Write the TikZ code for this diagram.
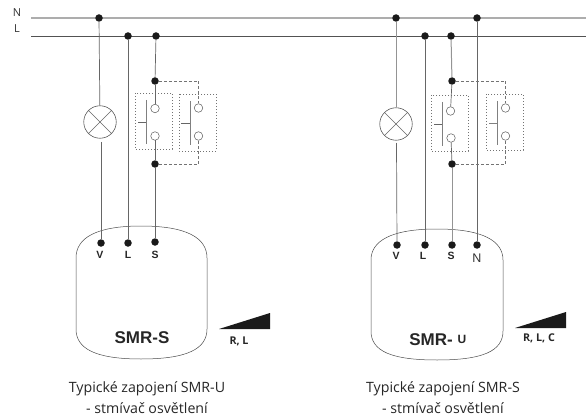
\documentclass[tikz,border=0pt]{standalone}
\usepackage{fontspec}
\setmainfont{Open Sans}
\newfontfamily\lab{Liberation Sans}
\usetikzlibrary{calc}
\definecolor{inkd}{HTML}{1A1A1A}
\tikzset{
 x=1pt,y=-1pt,
 dotn/.style={circle,fill=inkd,draw=none,inner sep=0pt,minimum size=7.5pt},
 term/.style={circle,draw=black!65,fill=white,line width=.5pt,inner sep=0pt,minimum size=8.5pt},
 lampn/.style={circle,draw=black!70,line width=.55pt,inner sep=0pt,minimum size=32.5pt},
 gbus/.style={draw=black!32,line width=1.3pt},
 dbus/.style={draw=black!68,line width=.7pt},
 gwire/.style={draw=black!42,line width=1pt},
 dwire/.style={draw=black!60,line width=.7pt},
 xwire/.style={draw=black!60,line width=.45pt},
 dashwire/.style={draw=black!55,line width=.5pt,dash pattern=on 3pt off 2pt},
 dotbox/.style={draw=black!55,line width=.5pt,dash pattern=on .8pt off 2.2pt},
 swbar/.style={draw=black!50,line width=.8pt},
 modul/.style={draw=black!70,line width=.5pt},
 wedgefill/.style={fill=inkd,draw=none},
 pinlab/.style={font=\lab\bfseries\fontsize{10.5}{12}\selectfont,text=black!85,inner sep=0pt},
 biglab/.style={font=\lab\bfseries\fontsize{17}{19}\selectfont,text=black!85,inner sep=0pt},
 caplab/.style={font=\fontsize{14.2}{16}\selectfont,text=black!85,inner sep=0pt},
 rnglab/.style={font=\fontsize{10.7}{12}\selectfont\bfseries,text=black!85,inner sep=0pt},
 buslab/.style={font=\fontsize{11}{13}\selectfont,text=black!80,inner sep=0pt},
}
\begin{document}
\begin{tikzpicture}
\useasboundingbox (0,0) rectangle (586,417);
% bus ends
\node[buslab] (tN) at (17,13) {N};
\node[buslab] (tL) at (17,29) {L};
\coordinate (Na) at (31,18); \coordinate (Nb) at (586,18);
\coordinate (La) at (31,36); \coordinate (Lb) at (586,36);
\draw[gbus] (Na) -- (Nb);
\draw[dbus] (La) -- (Lb);

% ---------- left circuit ----------
\draw[modul] (76,258) .. controls (76,238) and (96,226) .. (141,226)
  .. controls (187,226) and (207,238) .. (207,258)
  -- (207,329) .. controls (207,349) and (187,359) .. (141,359)
  .. controls (96,359) and (76,349) .. (76,329) -- cycle;
\node[dotn] (a1) at (99,18) {};
\node[dotn] (a2) at (128,36) {};
\node[dotn] (a3) at (156,36) {};
\node[dotn] (a4) at (155,81) {};
\node[dotn] (a5) at (155,164) {};
\node[dotn] (aV) at (101,243) {};
\node[dotn] (aL) at (128,243) {};
\node[dotn] (aS) at (155,242) {};
\node[lampn] (aLamp) at (100,122) {};
\draw[xwire] (aLamp.north west) -- (aLamp.south east);
\draw[xwire] (aLamp.north east) -- (aLamp.south west);
\draw[dwire] (a1) -- (aLamp);
\draw[dwire] (101,142) -- (aV);
\draw[dwire] (a2) -- (aL);
\draw[dwire] (a3) -- (a4);
\draw[dotbox] (135,93) rectangle (172,149);
\draw[dotbox] (179,94) rectangle (216,151);
\node[term] (at1) at (155,108.5) {};
\node[term] (at2) at (155,136) {};
\node[term] (at3) at (198.5,108) {};
\node[term] (at4) at (198.5,136) {};
\draw[dwire] (a4) -- (at1);
\draw[dwire] (at2) -- (a5);
\draw[dwire] (a5) -- (aS);
\draw[swbar] (146,100) -- (146,144);
\draw[xwire] (138,122) -- (146,122);
\draw[swbar] (190,101) -- (190,145);
\draw[xwire] (181,123) -- (190,123);
\draw[dashwire] (a4) -| (at3);
\draw[dashwire] (a5) -| (at4);
\node[pinlab] (aVt) at (100,254.5) {V};
\node[pinlab] (aLt) at (128,254.5) {L};
\node[pinlab] (aSt) at (155,254.5) {S};
\node[biglab] (aName) at (142,338) {SMR-S};
\fill[wedgefill] (219,329) -- (270,329) -- (270,313) -- cycle;
\node[rnglab] (aR) at (239,341) {R, L};
\node[caplab] (aC1) at (147,389) {Typické zapojení SMR-U};
\node[caplab] (aC2) at (147,408) {- stmívač osvětlení};

% ---------- right circuit ----------
\draw[modul] (371,260) .. controls (371,241) and (391,229) .. (437,229)
  .. controls (483,229) and (503,241) .. (503,260)
  -- (503,331) .. controls (503,351) and (483,360) .. (437,360)
  .. controls (391,360) and (371,351) .. (371,331) -- cycle;
\node[dotn] (b1) at (396,18) {};
\node[dotn] (b2) at (425,36) {};
\node[dotn] (b3) at (451,36) {};
\node[dotn] (b6) at (477,18) {};
\node[dotn] (b4) at (452,81) {};
\node[dotn] (b5) at (452,164) {};
\node[dotn] (bV) at (397,245) {};
\node[dotn] (bL) at (425,245) {};
\node[dotn] (bS) at (452,245) {};
\node[dotn] (bN) at (477,245) {};
\node[lampn] (bLamp) at (396,124) {};
\draw[xwire] (bLamp.north west) -- (bLamp.south east);
\draw[xwire] (bLamp.north east) -- (bLamp.south west);
\draw[gwire] (b1) -- (bLamp);
\draw[dwire] (396.5,143) -- (bV);
\draw[dwire] (b2) -- (bL);
\draw[gwire] (b3) -- (b4);
\draw[dwire] (b6) -- (bN);
\draw[dotbox] (431,95) rectangle (468,151);
\draw[dotbox] (486,94) rectangle (523,150);
\node[term] (bt1) at (450.5,111) {};
\node[term] (bt2) at (451,138) {};
\node[term] (bt3) at (505.5,108) {};
\node[term] (bt4) at (505.5,136) {};
\draw[dwire] (b4) -- (bt1);
\draw[dwire] (bt2) -- (b5);
\draw[gwire] (b5) -- (bS);
\draw[swbar] (442,102) -- (442,146);
\draw[xwire] (434,124) -- (442,124);
\draw[swbar] (497,101) -- (497,145);
\draw[swbar] (489,123) -- (497,123);
\draw[dashwire] (b4) -| (bt3);
\draw[dashwire] (b5) -| (bt4);
\node[pinlab] (bVt) at (396,256) {V};
\node[pinlab] (bLt) at (423,256) {L};
\node[pinlab] (bSt) at (451,256) {S};
\node[font=\lab\fontsize{12.5}{14}\selectfont,text=black!80,inner sep=0pt] (bNt) at (477,258) {N};
\node[biglab,anchor=east] (bName) at (453,340) {SMR-};
\node[pinlab,font=\lab\bfseries\fontsize{12}{14}\selectfont] (bU) at (462,339.5) {U};
\fill[wedgefill] (515,328) -- (566,328) -- (566,312) -- cycle;
\node[rnglab] (bR) at (539,338) {R, L, C};
\node[caplab] (bC1) at (443,389) {Typické zapojení SMR-S};
\node[caplab] (bC2) at (443,408) {- stmívač osvětlení};
\end{tikzpicture}
\end{document}
